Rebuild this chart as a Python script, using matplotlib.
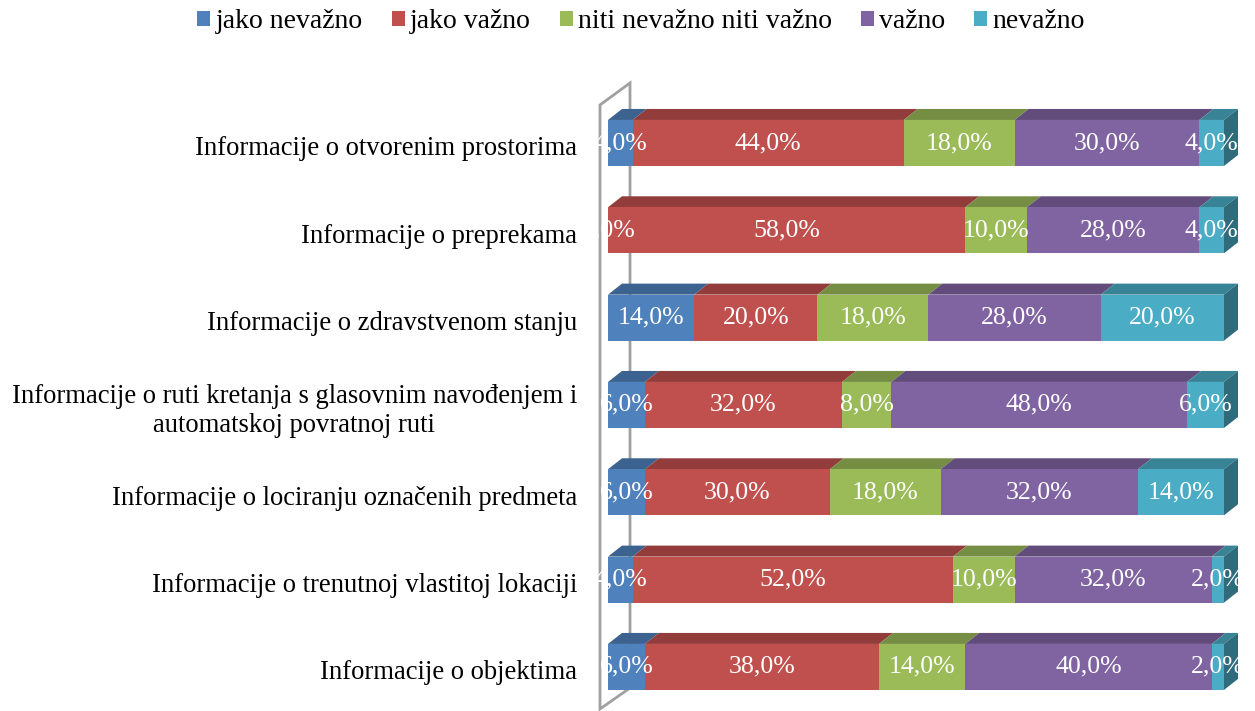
import matplotlib.pyplot as plt
from matplotlib.patches import Patch, Polygon
from matplotlib.transforms import offset_copy, blended_transform_factory
import numpy as np

plt.rcParams['font.family'] = ['Liberation Serif', 'DejaVu Serif']

# kategorije (odozgo prema dolje)
kategorije = [
    'Informacije o otvorenim prostorima',
    'Informacije o preprekama',
    'Informacije o zdravstvenom stanju',
    'Informacije o ruti kretanja s glasovnim navođenjem i\nautomatskoj povratnoj ruti',
    'Informacije o lociranju označenih predmeta',
    'Informacije o trenutnoj vlastitoj lokaciji',
    'Informacije o objektima',
]
serije = ['jako nevažno', 'jako važno', 'niti nevažno niti važno', 'važno', 'nevažno']
jako_nevazno = [4, 0, 14, 6, 6, 4, 6]
jako_vazno = [44, 58, 20, 32, 30, 52, 38]
niti_niti = [18, 10, 18, 8, 18, 10, 14]
vazno = [30, 28, 28, 48, 32, 32, 40]
nevazno = [4, 4, 20, 6, 14, 2, 2]

boje = ['#4F81BD', '#C0504D', '#9BBB59', '#8064A2', '#4BACC6']

W, H = 1255, 711
fig = plt.figure(figsize=(W / 100, H / 100), dpi=100)
# os: 0% na x=608px, 100% na x=1224px
ax = fig.add_axes([608 / W, 0.4 / H, 616 / W, 611.3 / H])
y = np.arange(len(kategorije))
ax.set_xlim(0, 100)
ax.set_ylim(len(kategorije) - 0.5, -0.5)

px_x = 100 / 616.0        # data jedinica po pikselu (x)
px_y = 7 / 611.3          # data jedinica po pikselu (y)
dx, dy = 14 * px_x, 11 * px_y
bh = 46 * px_y

def tamnije(c, f):
    r, g, b = plt.matplotlib.colors.to_rgb(c)
    return (r * f, g * f, b * f)

# bocni zid (sivi okvir)
zx0, zx1 = -8 * px_x, 22 * px_x
zid = [(zx0, (105 - 143) * px_y), (zx1, (83 - 143) * px_y),
       (zx1, (688 - 143) * px_y), (zx0, (709 - 143) * px_y)]
ax.add_patch(Polygon(zid, closed=True, facecolor='white', edgecolor='#A0A0A0',
                     linewidth=2, zorder=1, clip_on=False))

podaci = [jako_nevazno, jako_vazno, niti_niti, vazno, nevazno]
lijevo = np.zeros(len(kategorije))
for vr, boja, ime in zip(podaci, boje, serije):
    vr = np.array(vr, dtype=float)
    bars = ax.barh(y, vr, left=lijevo, height=bh, color=boja, zorder=3,
                   edgecolor='none', label=ime)
    for yi, l, w in zip(y, lijevo, vr):
        top = yi - bh / 2
        gore = [(l, top), (l + w, top), (l + w + dx, top - dy), (l + dx, top - dy)]
        ax.add_patch(Polygon(gore, closed=True, facecolor=tamnije(boja, 0.76),
                             edgecolor='none', zorder=2.5, clip_on=False))
    lbl = [f'{v:.1f}%'.replace('.', ',') for v in vr]
    ax.bar_label(bars, labels=lbl, label_type='center', color='white',
                 fontsize=18.6, zorder=5)
    lijevo = lijevo + vr

# desna strana trake
for yi, l in zip(y, lijevo):
    top = yi - bh / 2
    bok = [(l, top), (l + dx, top - dy), (l + dx, top + bh - dy), (l, top + bh)]
    ax.add_patch(Polygon(bok, closed=True, facecolor=tamnije(boje[-1], 0.62),
                         edgecolor='none', zorder=2.6, clip_on=False))

# nazivi kategorija
tr = offset_copy(blended_transform_factory(ax.transAxes, ax.transData),
                 fig=fig, x=-31, y=-6, units='dots')
for yi, naziv in zip(y, kategorije):
    ax.text(0, yi, naziv, transform=tr, ha='right', va='center',
            multialignment='center', fontsize=19.2, linespacing=1.25)

ax.set_yticks([])
ax.set_xticks([])
for s in ax.spines.values():
    s.set_visible(False)

ruke = [Patch(facecolor=b, edgecolor='none') for b in boje]
fig.legend(ruke, serije, loc='upper center', bbox_to_anchor=(641 / W, 1.022),
           ncol=5, frameon=False, fontsize=20, handlelength=0.47,
           handleheight=0.47, handletextpad=0.18, columnspacing=1.05)

fig.savefig('out.png', dpi=100)
